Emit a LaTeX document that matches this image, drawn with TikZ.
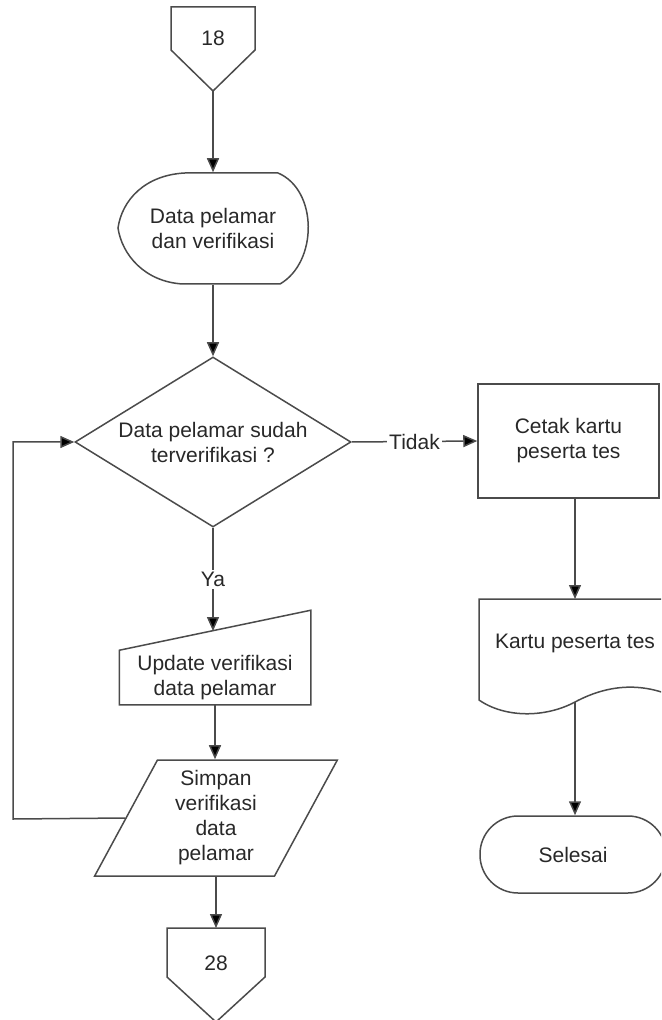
\documentclass[tikz,border=0pt]{standalone}
\usepackage{fontspec}
\setmainfont{Liberation Sans}
\usepackage{xcolor}
\usetikzlibrary{positioning,arrows.meta,shapes.geometric,calc}
\definecolor{cLine}{RGB}{75,75,75}
\definecolor{cText}{RGB}{40,40,40}

\begin{document}
\begin{tikzpicture}[x=0.5pt,y=-0.5pt,font=\fontsize{10.5}{12.5}\selectfont,line width=0.75pt,color=cLine]
\tikzset{
  lbl/.style={text=cText,align=center,inner sep=0pt},
  outline/.style={draw=cLine,line join=miter},
  flow/.style={draw=cLine,-{Triangle[length=7pt,width=6pt,fill=black]}},
  decide/.style={lbl,draw=cLine,diamond,aspect=1.62,minimum width=138pt,minimum height=85pt},
  proc/.style={lbl,draw=cLine,rectangle,minimum width=90.5pt,minimum height=57pt},
  store/.style={lbl,draw=cLine,trapezium,trapezium left angle=65,trapezium right angle=115,
    trapezium stretches=true,minimum width=122pt,minimum height=58pt,inner sep=1pt},
  term/.style={lbl,draw=cLine,rectangle,rounded corners=19pt,minimum width=93pt,minimum height=38.5pt},
  yesno/.style={text=cText,fill=white,inner sep=1pt}
}
\useasboundingbox (0,0) rectangle (661,1020);
\clip (0,0) rectangle (661,1020);

% off-page connector in
\draw[outline] (171,7) -- (255,7) -- (255,50) -- (213,91) -- (171,50) -- cycle;
\node[lbl] (c18) at (213,38) {18};
\coordinate (c18tip) at (213,91);

% display
\draw[outline] (185,173) -- (278,173) .. controls (318,190) and (318,262) .. (280,284)
  -- (183,284) .. controls (145,282) and (122,255) .. (118,228)
  .. controls (122,200) and (145,175) .. (185,173);
\node[lbl,minimum height=55.5pt] (disp) at (213,228.5) {Data pelamar\\dan verifikasi};

% decision and the two branches
\node[decide] (dec) at (213,442) {Data pelamar sudah\\terverifikasi ?};
\node[proc] (cetak) at (568.5,441) {Cetak kartu\\peserta tes};

% manual input
\node[lbl,minimum width=95pt,minimum height=26.5pt] (upd) at (215,677.5) {Update verifikasi\\data pelamar};
\draw[outline] (upd.south west) -- (upd.south east) -- ($(upd.north east)+(0,-40)$) -- (upd.north west) -- cycle;
\coordinate (updin) at (213,631);

% stored data
\node[store] (simp) at (216,818) {Simpan\\verifikasi\\data\\pelamar};
\coordinate (back) at (13,819);

% off-page connector out
\draw[outline] (167,928) -- (265,928) -- (265,977) -- (216,1022) -- (167,977) -- cycle;
\node[lbl] (c28) at (216,963) {28};
\coordinate (c28top) at (216,928);

% printed document
\draw[outline] (679,599) -- (479,599) -- (479,700) .. controls (505,718) and (545,718) .. (575,702)
  .. controls (605,686) and (640,680) .. (679,699);
\node[lbl] (doc) at (575,643) {Kartu peserta tes};
\coordinate (doctop) at (575,599);
\coordinate (docb) at (575,702);

% end
\node[term] (stop) at (573,854.5) {Selesai};

% connectors
\draw[flow] (c18tip) -- (disp.north);
\draw[flow] (disp.south) -- (dec.north);
\draw[flow] (dec.east) -- node[yesno] {Tidak} (cetak.west);
\draw[flow] (dec.south) -- node[yesno] {Ya} (updin);
\draw[flow] (upd.south) -- (upd.south |- simp.north);
\draw[flow] (simp.center |- simp.south) -- (c28top);
\draw[flow] (simp.west) -- (back) |- (dec.west);
\draw[flow] (doctop |- cetak.south) -- (doctop);
\draw[flow] (docb) -- (docb |- stop.north);
\end{tikzpicture}
\end{document}
